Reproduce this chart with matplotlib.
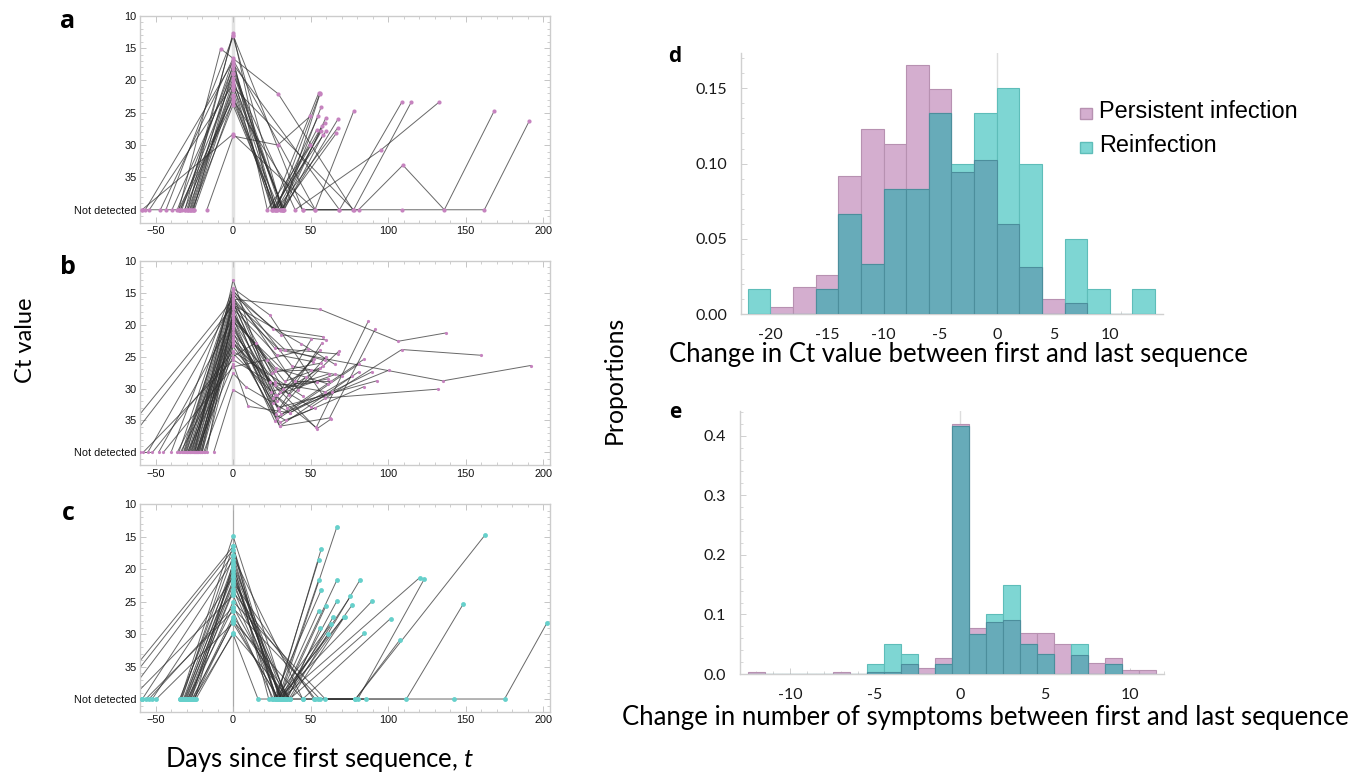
import matplotlib
matplotlib.use('Agg')
import matplotlib.pyplot as plt
import numpy as np
from matplotlib.patches import Rectangle
from matplotlib.ticker import MultipleLocator

plt.rcParams['mathtext.fontset'] = 'custom'
plt.rcParams['mathtext.it'] = 'Lato:italic'
plt.rcParams['mathtext.rm'] = 'Lato'

ND = 40  # "Not detected"

# ---------------- panel a (persistent, pink) ----------------
a_days = [
    [-58.7, 0, 52.8, 77.7],
    [-56.6, 0, 27.8, 56.0],
    [-54.0, 0, 25.0, 55.1],
    [-46.9, 0, 22.1, 49.9],
    [-43.3, 0, 31.5, 56.8],
    [-39.4, 0, 32.1, 59.8],
    [-58.7, -35.1, 0, 26.0, 57.2],
    [-34.1, 0, 28.1, 56.8],
    [-31.3, 0, 27.0, 54.0],
    [-29.1, 0, 25.0, 59.8],
    [-27.6, 0, 32.4, 67.6],
    [-26.5, 0, 28.0, 67.6],
    [-25.5, 0, 31.0, 66.5],
    [-16.9, 0, 28.8, 49.9],
    [-35.0, -8.0, 29.2, 77.2],
    [-30.0, 0, 40.0, 95.6, 132.6],
    [-28.0, 0, 68.6, 108.7],
    [-27.0, 0, 77.7, 114.8],
    [-33.0, 0, 53.0, 80.9, 109.5, 136.2, 168.4],
    [-25.0, 0, 44.8, 108.7, 162.0, 190.9],
    [-36.0, 0, 32.0, 56.0],
    [-31.0, 0, 44.8, 68.6],
    [-26.0, 0, 27.0, 55.0],
    [-29.0, 0, 33.0, 58.0],
    [-34.0, 0, 30.0, 59.0],
]
a_ct = [
    [ND, 28.3, ND, 24.8],
    [ND, 17.1, ND, 22.0],
    [ND, 20.6, ND, 22.0],
    [ND, 16.6, ND, 30.0],
    [ND, 13.2, ND, 24.1],
    [ND, 18.9, ND, 25.8],
    [ND, ND, 22.6, ND, 27.1],
    [ND, 19.7, ND, 27.9],
    [ND, 22.2, ND, 27.6],
    [ND, 12.6, ND, 27.9],
    [ND, 20.1, ND, 26.0],
    [ND, 23.8, ND, 27.3],
    [ND, 18.2, ND, 28.2],
    [ND, 28.6, 30.0, 25.5],
    [ND, 15.1, 22.1, ND],
    [ND, 19.0, ND, 30.7, 23.4],
    [ND, 17.5, ND, 23.4],
    [ND, 21.0, ND, 23.4],
    [ND, 16.8, ND, ND, 33.1, ND, 24.7],
    [ND, 23.0, ND, ND, ND, 26.3],
    [ND, 17.8, ND, 22.1],
    [ND, 13.0, ND, ND],
    [ND, 21.5, ND, 25.5],
    [ND, 20.9, ND, 28.4],
    [ND, 23.3, ND, 26.6],
]

# ---------------- panel b (persistent, pink) ----------------
b_days = [
    [-80, 0, 55.8, 106.6, 137.3],
    [-73, 0, 30.1, 135.2, 191.8],
    [-58, 0, 50.4, 108.8, 160.0],
    [-55, 0, 27.0, 53.6, 87.3],
    [-48, 0, 30.1, 62.2, 91.6],
    [-40, 0, 23.7, 59.0, 132.0],
    [-35, 0, 25.8, 58.0],
    [-33, 0, 31.2, 60.1],
    [-31, 0, 26.9, 67.6],
    [-30, 0, 33.3, 59.0],
    [-29, 0, 44.0, 65.5],
    [-28, 0, 28.0, 51.5],
    [-27, 0, 27.0, 50.4],
    [-26, 0, 33.3, 55.8],
    [-25, 0, 39.8, 63.3],
    [-24, 0, 9.8, 36.6, 76.6],
    [-23, 0, 25.8, 50.4],
    [-22, 0, 26.9, 80.9],
    [-21, 0, 30.1, 80.9],
    [-20, 0, 28.0, 84.5],
    [-19, 0, 8.1, 36.6, 89.5],
    [-18, 0, 29.0, 92.6],
    [-17, 0, 31.0, 100.8],
    [-12.5, 0, 34.0, 84.5],
    [-26.5, 0, 28.5, 56.0],
    [-25.5, 0, 27.5, 57.5],
    [-24.5, 0, 29.5, 60.0],
    [-23.5, 0, 24.5, 62.0],
    [-22.5, 0, 27.0, 54.0],
    [-21.5, 0, 28.0, 66.0],
    [-20.5, 0, 32.0, 61.0],
    [-30.5, 0, 25.0, 57.0],
    [-32, 0, 38.0, 70.0],
    [-34, 0, 35.0, 64.0],
    [-36, 0, 54.0, 63.0],
    [-45, 0, 22.0, 48.0],
    [-60, -52, 0, 45.0],
    [-28.5, 0, 24.0, 59.5],
    [-27.5, 0, 30.0, 53.0],
    [-24.8, 0, 26.0, 58.0],
    [-23.8, 0, 36.0, 47.0],
    [-22.8, 0, 30.5, 52.0],
    [-29.5, 0, 15.0, 27.0],
    [-31.5, 0, 42.0, 68.0],
    [-20, 0, 27.5, 61.5],
]
b_ct = [
    [ND, 16.0, 17.6, 22.6, 21.3],
    [ND, 17.0, 24.0, 28.8, 26.4],
    [ND, 25.5, 32.9, 23.9, 24.8],
    [ND, 16.5, 31.0, 36.1, 19.4],
    [ND, 19.0, 35.9, 34.6, 20.7],
    [ND, 14.3, 18.5, 31.5, 30.1],
    [ND, 14.8, 20.7, 21.9],
    [ND, 15.3, 21.6, 22.4],
    [ND, 15.8, 23.7, 24.6],
    [ND, 16.3, 23.9, 25.6],
    [ND, 16.9, 23.0, 26.2],
    [ND, 17.5, 24.7, 25.8],
    [ND, 18.5, 27.3, 27.1],
    [ND, 19.0, 28.9, 26.8],
    [ND, 19.5, 28.9, 28.9],
    [ND, 26.1, 32.8, 33.8, 28.1],
    [ND, 20.3, 32.3, 22.3],
    [ND, 21.1, 35.1, 26.2],
    [ND, 21.9, 35.9, 27.4],
    [ND, 22.6, 34.6, 25.4],
    [ND, 27.6, 29.7, 33.8, 27.4],
    [ND, 23.4, 33.0, 28.8],
    [ND, 18.0, 34.0, 27.1],
    [ND, 30.2, 35.0, 29.7],
    [ND, 16.6, 32.0, 24.0],
    [ND, 17.2, 34.0, 22.8],
    [ND, 19.8, 33.5, 25.0],
    [ND, 20.7, 30.5, 27.7],
    [ND, 22.2, 29.5, 29.0],
    [ND, 15.5, 31.0, 27.8],
    [ND, 16.2, 30.0, 28.5],
    [ND, 18.2, 27.5, 26.0],
    [ND, 14.6, 26.5, 28.0],
    [ND, 24.5, 33.0, 30.5],
    [ND, 22.8, 36.3, 34.8],
    [ND, 26.6, 25.5, 23.8],
    [ND, ND, 24.2, 31.2],
    [ND, 19.2, 29.0, 30.5],
    [ND, 20.0, 35.3, 33.0],
    [ND, 13.0, 31.5, 26.5],
    [ND, 21.5, 31.0, 28.2],
    [ND, 23.0, 30.6, 25.4],
    [ND, 25.0, 22.8, 29.0],
    [ND, 15.0, 30.2, 24.2],
    [ND, 18.8, 26.8, 29.3],
]

# ---------------- panel c (reinfection, teal) ----------------
c_days = [
    [-80, 0, 30.0, 66.9],
    [-76, 0, 28.0, 56.8],
    [-70, 0, 27.5, 55.1],
    [-66, 0, 29.0, 55.1],
    [-58.5, 0, 31.0, 66.9],
    [-58.5, -56.3, 0, 26.0, 56.8],
    [-54.2, 0, 33.0, 66.9],
    [-52.1, 0, 32.0, 59.8],
    [-58.5, -49.5, 0, 29.5, 55.1],
    [-33.9, 0, 34.0, 64.7],
    [-33.0, 0, 27.0, 63.2],
    [-32.0, 0, 35.0, 56.1],
    [-31.0, 0, 30.5, 61.5],
    [-30.0, 0, 28.5, 71.8],
    [-29.0, 0, 36.0, 81.7],
    [-28.0, 0, 31.5, 75.7],
    [-27.0, 0, 33.5, 76.8],
    [-26.0, 0, 37.0, 71.9],
    [-25.0, 0, 29.0, 89.7],
    [-24.0, 0, 36.5, 84.7],
    [-33.5, 0, 44.9, 101.5],
    [-31.5, 0, 31.0, 120.3],
    [-30.5, 0, 52.0, 80.4, 123.3],
    [-29.5, 0, 56.0, 78.9, 162.2],
    [-28.5, 0, 53.0, 78.9, 107.5],
    [-27.5, 0, 59.4, 111.7, 148.3],
    [-26.5, 0, 45.0, 142.2, 175.0, 202.3],
    [-25.5, 0, 16.1, 86.0],
    [-24.5, 0, 23.0, 55.0],
    [-34.5, 0, 25.0],
]
c_ct = [
    [ND, 16.5, ND, 13.5],
    [ND, 17.0, ND, 16.9],
    [ND, 17.8, ND, 18.6],
    [ND, 24.0, ND, 21.7],
    [ND, 18.6, ND, 21.7],
    [ND, ND, 26.5, ND, 23.2],
    [ND, 25.8, ND, 24.9],
    [ND, 21.2, ND, 25.7],
    [ND, ND, 28.3, ND, 26.4],
    [ND, 14.9, ND, 27.3],
    [ND, 16.5, ND, 28.4],
    [ND, 19.3, ND, 29.0],
    [ND, 20.4, ND, 30.0],
    [ND, 21.7, ND, 27.3],
    [ND, 22.4, ND, 21.7],
    [ND, 23.1, ND, 24.2],
    [ND, 19.8, ND, 25.5],
    [ND, 27.3, ND, 27.3],
    [ND, 27.8, ND, 24.9],
    [ND, 29.8, ND, 29.9],
    [ND, 18.0, ND, 27.6],
    [ND, 20.9, ND, 21.3],
    [ND, 22.0, ND, ND, 21.5],
    [ND, 26.0, ND, ND, 14.8],
    [ND, 23.5, ND, ND, 30.9],
    [ND, 25.0, ND, ND, 25.4],
    [ND, 28.0, ND, ND, ND, 28.3],
    [ND, 30.0, ND, ND],
    [ND, 19.0, ND, ND],
    [ND, 20.0, ND],
]

ct_ticks = [10, 15, 20, 25, 30, 35, 40]
ct_tick_labels = ['10', '15', '20', '25', '30', '35', 'Not detected']
day_ticks = [-50, 0, 50, 100, 150, 200]
day_tick_labels = ['\u221250', '0', '50', '100', '150', '200']

# ---------------- panel d histogram ----------------
d_left_edges = [-22, -20, -18, -16, -14, -12, -10, -8, -6, -4, -2, 0, 2, 4, 6, 8, 10, 12]
d_persistent = [0, 0.0047, 0.018, 0.0257, 0.0917, 0.123, 0.1128, 0.1655, 0.1496,
                0.0944, 0.1024, 0.060, 0.0312, 0.010, 0.0073, 0, 0, 0]
d_reinf_counts = [1, 0, 0, 1, 4, 2, 5, 5, 8, 6, 8, 9, 6, 0, 3, 1, 0, 1]
reinf_n = 60

# ---------------- panel e histogram ----------------
e_centers = list(range(-12, 12))
e_persistent = [0.003, 0, 0, 0, 0, 0.003, 0, 0.003, 0.003, 0.017, 0.0095, 0.027,
                0.4196, 0.0766, 0.087, 0.090, 0.069, 0.069, 0.050, 0.032, 0.018,
                0.027, 0.006, 0.006]
e_reinf_counts = [0, 0, 0, 0, 0, 0, 0, 1, 3, 2, 0, 1, 25, 4, 6, 9, 3, 2, 0, 3, 0, 1, 0, 0]

PINK = '#D4AECF'
PINK_E = '#B791B1'
TEAL = '#7ED6D3'
TEAL_E = '#5EBDB9'
OVER = '#67ABB9'
OVER_E = '#4C8E9C'

W, H = 1362, 776
fig = plt.figure(figsize=(W / 100, H / 100), dpi=100)


def axes_px(l, t, r, b):
    return fig.add_axes([l / W, 1 - b / H, (r - l) / W, (b - t) / H])


def line_panel(ax, days, cts, mcol, msize, zcol, zlw):
    ax.axvline(0, color=zcol, lw=zlw, zorder=1)
    for t, c in zip(days, cts):
        ax.plot(t, c, color='#2e2e2e', lw=0.7, alpha=0.72, zorder=2)
    for t, c in zip(days, cts):
        ax.plot(t, c, ls='none', marker='o', ms=msize, mfc=mcol, mec='none', zorder=3)
    ax.set_xlim(-60, 204)
    ax.set_ylim(42, 10)
    ax.set_yticks(ct_ticks)
    ax.set_yticklabels(ct_tick_labels)
    ax.set_xticks(day_ticks)
    ax.set_xticklabels(day_tick_labels)
    ax.xaxis.set_minor_locator(MultipleLocator(10))
    ax.yaxis.set_minor_locator(MultipleLocator(1))
    ax.tick_params(which='both', direction='in', top=True, right=True,
                   color='#BBBBBB', labelsize=7.8, labelcolor='#111111')
    ax.tick_params(which='major', length=4, width=0.6, pad=2.5)
    ax.tick_params(which='minor', length=2, width=0.5)
    for lab in ax.get_xticklabels() + ax.get_yticklabels():
        lab.set_family('Liberation Sans')
    for s in ax.spines.values():
        s.set_color('#CCCCCC')
        s.set_linewidth(1.0)


axa = axes_px(140, 15.7, 549.5, 222.7)
line_panel(axa, a_days, a_ct, '#C683BF', 3.0, '#E2E2E2', 2.5)
axb = axes_px(140, 260.7, 549.5, 465.2)
line_panel(axb, b_days, b_ct, '#C683BF', 2.3, '#E2E2E2', 2.5)
axc = axes_px(140, 504.3, 549.5, 712.0)
line_panel(axc, c_days, c_ct, '#66D0CB', 3.5, '#A8A8A8', 0.9)


def hist_panel(ax, left, width, pers, reinf):
    left = np.asarray(left, float)
    pers = np.asarray(pers, float)
    reinf = np.asarray(reinf, float)
    ax.axvline(0, color='#DDDDDD', lw=1.0, zorder=0)
    ax.bar(left, pers, width, align='edge', color=PINK, edgecolor=PINK_E, lw=0.8, zorder=2)
    ax.bar(left, reinf, width, align='edge', color=TEAL, edgecolor=TEAL_E, lw=0.8, zorder=3)
    ax.bar(left, np.minimum(pers, reinf), width, align='edge', color=OVER,
           edgecolor=OVER_E, lw=0.8, zorder=4)
    for s in ['top', 'right']:
        ax.spines[s].set_visible(False)
    for s in ['left', 'bottom']:
        ax.spines[s].set_color('#D0D0D0')
        ax.spines[s].set_linewidth(1.0)
    ax.tick_params(which='both', direction='in', color='#C8C8C8', labelsize=11.5,
                   labelcolor='#1a1a1a')
    ax.tick_params(which='major', length=4, width=0.6, pad=10)
    ax.tick_params(which='minor', length=2, width=0.5)
    ax.xaxis.set_minor_locator(MultipleLocator(1))


def hyphen_labels(vals, fmt):
    return [(fmt % v).replace('\u2212', '-') for v in vals]


axd = axes_px(741, 52.7, 1163, 314)
hist_panel(axd, d_left_edges, 2, d_persistent, np.array(d_reinf_counts) / reinf_n)
axd.set_xlim(-22.6, 14.7)
axd.set_ylim(0, 0.1737)
axd.set_xticks([-20, -15, -10, -5, 0, 5, 10])
axd.set_xticklabels(hyphen_labels([-20, -15, -10, -5, 0, 5, 10], '%d'))
axd.set_yticks([0, 0.05, 0.10, 0.15])
axd.set_yticklabels(['0.00', '0.05', '0.10', '0.15'])
axd.yaxis.set_minor_locator(MultipleLocator(0.01))

axe = axes_px(740, 411, 1164, 674)
hist_panel(axe, np.array(e_centers) - 0.5, 1, e_persistent, np.array(e_reinf_counts) / reinf_n)
axe.set_xlim(-12.95, 12)
axe.set_ylim(0, 0.4414)
axe.set_xticks([-10, -5, 0, 5, 10])
axe.set_xticklabels(hyphen_labels([-10, -5, 0, 5, 10], '%d'))
axe.set_yticks([0, 0.1, 0.2, 0.3, 0.4])
axe.set_yticklabels(['0.0', '0.1', '0.2', '0.3', '0.4'])
axe.yaxis.set_minor_locator(MultipleLocator(0.02))

for ax in (axd, axe):
    for lab in ax.get_xticklabels() + ax.get_yticklabels():
        lab.set_family('Lato')


def ftext(x, y, s, **kw):
    fig.text(x / W, 1 - y / H, s, ha='center', va='center', **kw)


# panel letters
for (x, y, s) in [(68, 22, 'a'), (68, 268, 'b'), (68, 513, 'c')]:
    ftext(x, y, s, fontsize=18, fontweight='bold', family='Open Sans')
for (x, y, s) in [(675, 57, 'd'), (675, 413, 'e')]:
    ftext(x, y, s, fontsize=15, fontweight='bold', family='Open Sans')

ftext(25, 340, 'Ct value', rotation=90, fontsize=17, family='Lato')
ftext(320, 760, 'Days since first sequence, $t$', fontsize=18.5, family='Lato')
ftext(614, 380, 'Proportions', rotation=90, fontsize=17.8, family='Lato')
ftext(958, 355, 'Change in Ct value between first and last sequence', fontsize=18.5, family='Lato')
ftext(985, 717, 'Change in number of symptoms between first and last sequence', fontsize=18.5,
      family='Lato')

# legend
fig.patches.append(Rectangle((1080 / W, 1 - 119 / H), 11.5 / W, 11 / H, transform=fig.transFigure,
                             facecolor=PINK, edgecolor=PINK_E, lw=1.0))
fig.patches.append(Rectangle((1080 / W, 1 - 153 / H), 11.5 / W, 11 / H, transform=fig.transFigure,
                             facecolor=TEAL, edgecolor=TEAL_E, lw=1.0))
fig.text(1099 / W, 1 - 111 / H, 'Persistent infection', ha='left', va='center', fontsize=16.9,
         family='Liberation Sans')
fig.text(1099 / W, 1 - 145 / H, 'Reinfection', ha='left', va='center', fontsize=16.9,
         family='Liberation Sans')

fig.savefig('out.png', dpi=100)
